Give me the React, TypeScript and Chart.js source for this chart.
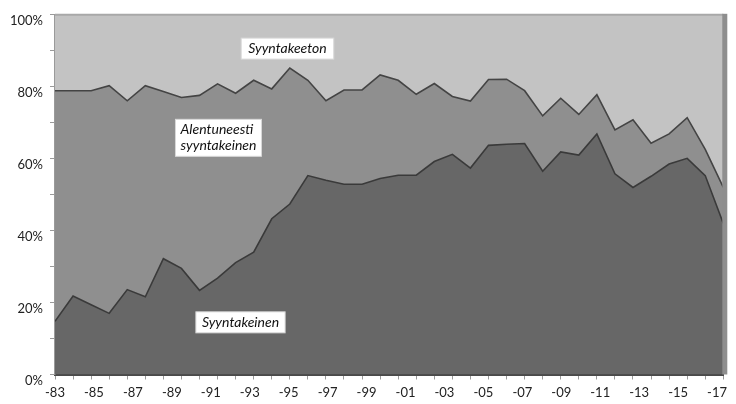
import React, { useEffect, useRef } from 'react';
import { Chart, registerables } from 'chart.js';

Chart.register(...registerables);

const syyntakeinen = [
  14.8, 21.8, 19.4, 17.0, 23.6, 21.6, 32.2, 29.5, 23.4, 26.8,
  31.1, 34.0, 43.3, 47.4, 55.3, 54.0, 52.9, 52.9, 54.5, 55.4,
  55.4, 59.2, 61.2, 57.4, 63.7, 64.0, 64.2, 56.5, 61.9, 61.0,
  66.9, 55.8, 52.0, 55.1, 58.5, 60.1, 55.3, 42.0,
];
const alentuneestiSyyntakeinen = [
  64.1, 57.1, 59.5, 63.3, 52.5, 58.7, 46.5, 47.5, 54.2, 54.0,
  47.1, 47.8, 36.1, 37.8, 26.5, 22.1, 26.2, 26.2, 28.8, 26.4,
  22.5, 21.7, 16.1, 18.6, 18.3, 18.1, 14.7, 15.4, 14.9, 11.3,
  10.9, 12.2, 18.8, 9.2, 8.4, 11.3, 7.3, 10.0,
];
const syyntakeeton = [
  21.1, 21.1, 21.1, 19.7, 23.9, 19.7, 21.3, 23.0, 22.4, 19.2,
  21.8, 18.2, 20.6, 14.8, 18.2, 23.9, 20.9, 20.9, 16.7, 18.2,
  22.1, 19.1, 22.7, 24.0, 18.0, 17.9, 21.1, 28.1, 23.2, 27.7,
  22.2, 32.0, 29.2, 35.7, 33.1, 28.6, 37.4, 48.0,
];

// Year tick labels on the x axis
const tickYears = [
  1983, 1985, 1987, 1989, 1991, 1993, 1995, 1997, 1999,
  2001, 2003, 2005, 2007, 2009, 2011, 2013, 2015, 2017,
];

const seriesNames = ['Syyntakeinen', 'Alentuneesti syyntakeinen', 'Syyntakeeton'];

const notes = [
  { text: 'Syyntakeeton', x: 12.87, y: 90.6, pad: 7 },
  { text: 'Alentuneesti\nsyyntakeinen', x: 9.05, y: 65.8, pad: 5 },
  { text: 'Syyntakeinen', x: 10.27, y: 14.5, pad: 6 },
];

const FONT = 'Lato, "Open Sans", sans-serif';

const notesPlugin = {
  id: 'notes',
  afterDatasetsDraw(chart: any) {
    const { ctx, chartArea, scales } = chart;
    const x = scales.x;
    const y = scales.y;
    ctx.save();
    // top border
    ctx.strokeStyle = '#a8a8a8';
    ctx.lineWidth = 2;
    ctx.beginPath();
    ctx.moveTo(chartArea.left, chartArea.top);
    ctx.lineTo(chartArea.right, chartArea.top);
    ctx.stroke();
    // right edge strip
    ctx.fillStyle = '#8e8e8e';
    ctx.fillRect(chartArea.right - 1, chartArea.top - 1, 5, chartArea.bottom - chartArea.top + 1);

    ctx.font = 'italic 14px ' + FONT;
    ctx.textBaseline = 'middle';
    ctx.textAlign = 'left';
    for (const n of notes) {
      const cx = x.getPixelForValue(n.x);
      const cy = y.getPixelForValue(n.y);
      const lines = n.text.split('\n');
      const w = Math.max(...lines.map((l: string) => ctx.measureText(l).width)) + n.pad * 2;
      const lh = 16;
      const h = lines.length * lh + 5;
      ctx.fillStyle = '#ffffff';
      ctx.fillRect(cx - w / 2, cy - h / 2, w, h);
      ctx.strokeStyle = '#d8d8d8';
      ctx.lineWidth = 1;
      ctx.strokeRect(cx - w / 2, cy - h / 2, w, h);
      ctx.fillStyle = '#111111';
      lines.forEach((l: string, i: number) => {
        ctx.fillText(l, cx - w / 2 + n.pad, cy - h / 2 + 2.5 + lh * (i + 0.5));
      });
    }
    ctx.restore();
  },
};

export default function App() {
  const ref = useRef<HTMLCanvasElement>(null);

  useEffect(() => {
    document.body.style.margin = '0';
    const canvas = ref.current;
    if (!canvas) return;
    const toPts = (arr: number[]) => arr.map((v, i) => ({ x: i, y: v }));
    const chart = new Chart(canvas, {
      type: 'line',
      data: {
        datasets: [
          {
            label: seriesNames[0],
            data: toPts(syyntakeinen),
            fill: 'origin',
            backgroundColor: '#676767',
            borderColor: '#3a3a3a',
            borderWidth: 1.6,
            pointRadius: 0,
            tension: 0,
          },
          {
            label: seriesNames[1],
            data: toPts(alentuneestiSyyntakeinen),
            fill: '-1',
            backgroundColor: '#8f8f8f',
            borderColor: '#444444',
            borderWidth: 1.6,
            pointRadius: 0,
            tension: 0,
          },
          {
            label: seriesNames[2],
            data: toPts(syyntakeeton),
            fill: '-1',
            backgroundColor: '#c3c3c3',
            borderColor: '#a8a8a8',
            borderWidth: 0,
            pointRadius: 0,
            tension: 0,
          },
        ],
      },
      options: {
        animation: false,
        responsive: false,
        devicePixelRatio: 1,
        layout: { padding: { top: 6.5, right: 12.7, left: 0, bottom: 0 } },
        plugins: {
          legend: { display: false },
          tooltip: { enabled: false },
        },
        elements: { line: { borderJoinStyle: 'miter' } },
        scales: {
          x: {
            type: 'linear',
            position: 'bottom',
            min: 0,
            max: syyntakeinen.length - 1,
            ticks: { display: false, stepSize: 1 },
            afterBuildTicks: (scale: any) => {
              scale.ticks = syyntakeinen.map((_, i) => ({ value: i }));
            },
            grid: { drawOnChartArea: false, tickLength: 5, color: '#9a9a9a' },
            border: { color: '#4a4a4a', width: 2 },
            afterFit: (scale: any) => { scale.height = 6; },
          },
          x2: {
            type: 'linear',
            position: 'bottom',
            min: tickYears[0],
            max: 2017.32,
            afterBuildTicks: (scale: any) => {
              scale.ticks = tickYears.map((v) => ({ value: v }));
            },
            ticks: {
              autoSkip: false,
              maxRotation: 0,
              padding: 5,
              color: '#222',
              font: { family: FONT, size: 13 },
              callback: (v: any) => '-' + String(v).slice(2),
            },
            grid: { display: false, drawTicks: false },
            border: { display: false },
            afterFit: (scale: any) => { scale.height = 23.5; },
          },
          y: {
            stacked: true,
            min: 0,
            max: 100,
            ticks: {
              stepSize: 10,
              padding: 7,
              labelOffset: 6,
              color: '#222',
              font: { family: FONT, size: 13 },
              callback: (v: any) => (Number(v) % 20 === 0 ? v + '%' : ''),
            },
            grid: { drawOnChartArea: false, tickLength: 5, color: '#9a9a9a' },
            border: { color: '#9a9a9a', width: 1.5 },
            afterFit: (scale: any) => { scale.width = 55; },
          },
        },
      },
      plugins: [notesPlugin],
    } as any);
    return () => chart.destroy();
  }, []);

  return (
    <div style={{ width: 736, height: 404 }}>
      <canvas ref={ref} width={736} height={404} style={{ display: 'block' }} />
    </div>
  );
}
